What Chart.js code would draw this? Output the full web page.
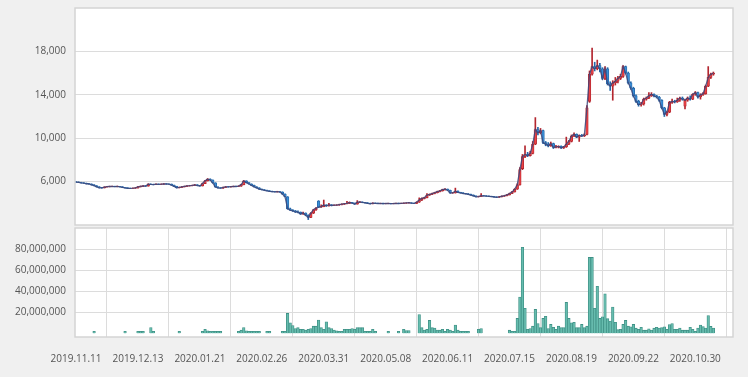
<!DOCTYPE html>
<html>
<head>
<meta charset="utf-8">
<script src="https://cdn.jsdelivr.net/npm/chart.js@4.4.0/dist/chart.umd.min.js"></script>
<style>
    html, body { margin: 0; padding: 0; background: #f0f0f0; }
    #wrap { position: relative; width: 748px; height: 377px; }
    #price-chart { position: absolute; left: 0; top: 0; }
    #vol-chart { position: absolute; left: 0; top: 226px; }
</style>
</head>
<body>
<div id="wrap">
    <canvas id="price-chart" width="748" height="226"></canvas>
    <canvas id="vol-chart" width="748" height="151"></canvas>
</div>
<script>
// x tick labels sit every 24 trading days
const dateLabels = ["2019.11.11", "2019.12.13", "2020.01.21", "2020.02.26", "2020.03.31", "2020.05.08",
    "2020.06.11", "2020.07.15", "2020.08.19", "2020.09.22", "2020.10.30"];
const dateTickIdx = [0, 24, 48, 72, 96, 120, 144, 168, 192, 216, 240];
const priceTicks = [6000, 10000, 14000, 18000];
const volumeTicks = [20000000, 40000000, 60000000, 80000000];

const opens = [
    5980,5950,5920,5880,5850,5800,5780,5700,5620,5520, 5430,5420,5500,5530,5550,5560,5540,5560,5520,5470,
    5420,5380,5370,5390,5420,5520,5560,5600,5590,5760, 5740,5730,5770,5740,5760,5790,5780,5770,5680,5560,
    5430,5470,5520,5560,5600,5620,5650,5700,5640,5600, 5820,6080,6230,6150,5880,5500,5420,5400,5460,5520,
    5510,5540,5560,5550,5580,5720,6060,5900,5780,5650, 5520,5420,5300,5250,5200,5150,5100,5080,5060,5080,
    5040,4850,4600,3500,3380,3300,3200,3180,3020,3100, 2900,2700,3100,3400,4200,3650,3700,3840,3760,3850,
    3800,3830,3840,3880,3920,3960,4000,4080,4020,3930, 4100,4120,4080,4050,4000,3960,4020,3990,3980,3990,
    3970,3980,3990,3970,3980,4000,3980,3990,4010,4030, 4050,4010,3990,4100,4300,4450,4520,4760,4820,4900,
    4980,5080,5150,5260,5310,5200,4950,4960,5120,5000, 4960,4900,4880,4820,4760,4680,4600,4620,4700,4690,
    4660,4640,4620,4580,4560,4600,4650,4700,4780,4900, 5050,5300,5700,7200,8300,8500,8400,8600,9450,10800,
    10500,10700,9600,9450,9300,9500,9150,9200,9250,9100, 9200,9450,9700,10200,10350,10100,10250,10200,10350,13400,
    15900,16600,16400,16700,16400,15500,16400,15000,14800,15100, 15250,15500,15700,16600,16000,15100,14600,13900,13400,13100,
    13150,13600,13700,13900,14050,13900,13800,13500,12800,12200, 12400,13300,13400,13350,13500,13700,12950,13500,13700,13600,
    14050,14200,13800,14000,14100,14800,15600,15900
];
const highs = [
    6000,5980,5940,5900,5870,5830,5800,5720,5640,5540, 5470,5530,5560,5580,5590,5580,5590,5570,5540,5480,
    5440,5400,5420,5450,5560,5600,5640,5630,5800,5790, 5770,5800,5790,5790,5820,5810,5800,5780,5690,5570,
    5500,5550,5590,5630,5660,5690,5740,5720,5660,5860, 6120,6280,6260,6160,5900,5530,5450,5490,5550,5550,
    5570,5590,5580,5620,5760,6100,6080,5920,5800,5670, 5540,5440,5320,5270,5220,5170,5130,5100,5110,5100,
    5060,4870,4620,3560,3420,3340,3300,3200,3200,3120, 2950,3150,3450,3600,4250,3850,4300,3880,4000,3880,
    3870,3880,3920,3960,4000,4180,4120,4100,4030,4250, 4160,4140,4100,4070,4020,4050,4040,4010,4010,4010,
    4000,4010,4000,4000,4030,4020,4010,4040,4060,4080, 4060,4030,4150,4500,4500,4560,4900,4860,4940,5020,
    5120,5190,5300,5350,5320,5220,5000,5400,5140,5020, 4980,4920,4900,4840,4780,4700,4660,4900,4730,4710,
    4680,4660,4640,4600,4640,4690,4740,4820,4940,5100, 5350,5800,7300,8500,9300,8700,8800,9700,11900,11000,
    10900,10750,9700,9600,9650,9550,9350,9300,9300,9250, 10100,9800,10300,10500,10400,10300,10350,10400,13000,16200,
    18300,17000,17200,16900,16500,16600,16500,15200,15300,15600, 15700,15900,16700,16650,16100,15200,14700,14000,13500,13300,
    13700,13800,14200,14200,14100,13950,13850,13550,12850,12500, 13400,13600,13500,13700,13800,13800,13600,13800,13900,14100,
    14300,14250,14100,14200,14900,16600,16000,16100
];
const lows = [
    5920,5900,5860,5830,5780,5760,5680,5600,5500,5410, 5400,5410,5480,5510,5530,5520,5520,5500,5450,5400,
    5360,5350,5350,5370,5400,5500,5540,5560,5580,5720, 5700,5710,5720,5720,5740,5750,5750,5660,5540,5410,
    5410,5450,5500,5540,5580,5600,5630,5620,5580,5590, 5800,6050,6100,5850,5480,5400,5380,5380,5440,5490,
    5490,5520,5530,5530,5560,5700,5880,5760,5630,5500, 5400,5280,5230,5180,5130,5080,5060,5040,5040,5020,
    4830,4580,3450,3330,3250,3150,3120,2980,2980,2850, 2500,2680,3050,3350,3600,3620,3680,3720,3740,3770,
    3780,3800,3810,3850,3890,3940,3970,3990,3900,3920, 4060,4050,4020,3970,3940,3940,3970,3960,3960,3950,
    3950,3960,3950,3950,3960,3960,3960,3970,3990,4010, 3990,3970,3970,4080,4250,4400,4500,4720,4790,4870,
    4950,5050,5120,5220,5170,4930,4920,4940,4980,4930, 4880,4850,4800,4740,4660,4580,4580,4600,4660,4640,
    4620,4600,4560,4540,4540,4580,4630,4680,4760,4880, 5030,5280,5680,7100,8200,8300,8350,8550,9400,10300,
    10400,9500,9300,9200,9250,9050,9100,9100,9050,9050, 9150,9400,9650,10150,10050,9700,10150,10150,10300,13300,
    15800,16200,16300,16100,15400,15400,14900,14400,13500,14900, 15100,15400,15600,15900,15000,14500,13800,13300,12950,12950,
    13050,13500,13650,13850,13800,13700,13400,12700,12000,12050, 12350,13200,13250,13300,13400,13500,12700,13400,13500,13550,
    13950,13700,13600,13950,14050,14750,15500,15800
];
const closes = [
    5950,5920,5880,5850,5800,5780,5700,5620,5520,5430, 5420,5500,5530,5550,5560,5540,5560,5520,5470,5420,
    5380,5370,5390,5420,5520,5560,5600,5590,5760,5740, 5730,5770,5740,5760,5790,5780,5770,5680,5560,5430,
    5470,5520,5560,5600,5620,5650,5700,5640,5600,5820, 6080,6230,6150,5880,5500,5420,5400,5460,5520,5510,
    5540,5560,5550,5580,5720,6060,5900,5780,5650,5520, 5420,5300,5250,5200,5150,5100,5080,5060,5080,5040,
    4850,4600,3500,3380,3300,3200,3180,3020,3100,2900, 2700,3100,3400,3550,3650,3700,3840,3760,3850,3800,
    3830,3840,3880,3920,3960,4000,4080,4020,3930,4100, 4120,4080,4050,4000,3960,4020,3990,3980,3990,3970,
    3980,3990,3970,3980,4000,3980,3990,4010,4030,4050, 4010,3990,4100,4300,4450,4520,4760,4820,4900,4980,
    5080,5150,5260,5310,5200,4950,4960,5120,5000,4960, 4900,4880,4820,4760,4680,4600,4620,4700,4690,4660,
    4640,4620,4580,4560,4600,4650,4700,4780,4900,5050, 5300,5700,7100,8300,8500,8400,8600,9450,10800,10500,
    10700,9600,9450,9300,9500,9150,9200,9250,9100,9200, 9450,9700,10200,10350,10100,10250,10200,10300,12800,15900,
    16600,16400,16700,16400,15500,16400,15000,14800,15100,15250, 15500,15700,16600,16000,15100,14600,13900,13400,13100,13150,
    13600,13700,13900,14050,13900,13800,13500,12800,12200,12400, 13300,13400,13350,13500,13700,13600,13500,13700,13600,14050,
    14200,13800,14000,14100,14800,15600,15900,16000
];
// volume in millions of shares, null where no bar is visible
const volumeMillions = [
    null,null,null,null,null,null,null,2,null,null, null,null,null,null,null,null,null,null,null,2,
    null,null,null,null,2,2,2,null,null,5.5, 2,null,null,null,null,null,null,null,null,null,
    2,null,null,null,null,null,null,null,null,2, 3.8,2.5,2,2,2,2,2,null,null,null,
    null,null,null,2,3,5.5,2.5,2,2,2, 2,2,null,null,2,2,null,null,null,null,
    2,2,19,10,7.5,4.6,5.4,3.8,3.8,3.2, 3.8,4.6,6.8,6.8,12.7,5.4,3.8,11,5.4,4.6,
    3.2,2.5,2,2,3.8,3.8,3.8,4.6,3.8,5.4, 5.4,5.4,2,2,2,3.8,2,null,null,null,
    null,2,null,null,null,2,null,3.8,2.6,2.6, null,null,null,18,5.4,3.2,3.8,12.3,5.4,5,
    3.2,3,3.8,2,3.8,3.2,2,7.9,3.2,2, 2,2,2,null,null,null,3.8,4.6,null,null,
    null,null,null,null,null,null,null,null,3,2, 2,14.2,34.6,82,23.8,3.8,4.6,6.8,22.8,9.4,
    5.4,14.2,16.2,4.6,8.5,5.7,3.8,6.8,5.4,5.4, 29.5,14.2,10,10.5,5.4,5.4,8.5,5.4,6.8,72.4,
    72.4,23.8,44.8,14.2,15.8,37.7,14,11.7,25.1,10.5, 3.5,3.8,8.5,12.3,6.8,6.2,8.5,4.9,3.8,5.7,
    3,3,4.3,3.2,4.9,5.7,5.1,5.4,6.2,3.8, 8.3,9.4,3.8,3.8,5,3,3,3,5.7,3.8,
    2,5,7.9,6.5,5,17,6.6,5
];

const upFill = "#ec4346", upEdge = "#b3262f";
const downFill = "#3a8fd8", downEdge = "#2568aa";
const isUp = i => closes[i] >= opens[i];

const tickFont = { family: "'Open Sans', sans-serif", size: 10 };

// white plot area with a light frame, like the original
const plotFrame = {
    id: "plotFrame",
    beforeDraw(chart) {
        const { ctx, chartArea: a } = chart;
        ctx.save();
        ctx.fillStyle = "#ffffff";
        ctx.fillRect(a.left, a.top, a.right - a.left, a.bottom - a.top);
        ctx.restore();
    },
    afterDraw(chart) {
        const { ctx, chartArea: a } = chart;
        ctx.save();
        ctx.strokeStyle = "#d4d4d4";
        ctx.lineWidth = 1.5;
        ctx.strokeRect(a.left, a.top, a.right - a.left, a.bottom - a.top);
        ctx.restore();
    }
};

// keep tick labels from pushing the plot area around
const fixY = s => { s.width = 75; s.paddingTop = 0; s.paddingBottom = 0; };
const xRange = { min: -0.4, max: 254.6, offset: false };

new Chart(document.getElementById("price-chart"), {
    type: "bar",
    data: {
        datasets: [
            {
                type: "line",
                data: closes.map((c, i) => ({ x: i, y: c })),
                borderColor: "rgba(60,70,122,0.85)",
                borderWidth: 1.3,
                pointRadius: 0,
                tension: 0,
                order: 0
            },
            {
                data: opens.map((o, i) => ({ x: i, y: [o, closes[i]] })),
                backgroundColor: opens.map((o, i) => isUp(i) ? upFill : downFill),
                borderColor: opens.map((o, i) => isUp(i) ? upEdge : downEdge),
                borderWidth: 0.8,
                borderSkipped: false,
                barPercentage: 1,
                categoryPercentage: 1,
                grouped: false,
                order: 1
            },
            {
                data: lows.map((l, i) => ({ x: i, y: [l, highs[i]] })),
                backgroundColor: lows.map((l, i) => isUp(i) ? upEdge : downEdge),
                barThickness: 1,
                grouped: false,
                order: 2
            }
        ]
    },
    options: {
        responsive: false,
        animation: false,
        layout: { padding: { top: 8, right: 15, left: 0, bottom: 1 } },
        plugins: { legend: { display: false }, tooltip: { enabled: false } },
        scales: {
            x: { type: "linear", ...xRange, display: false },
            y: {
                min: 2000,
                max: 22000,
                afterBuildTicks: s => { s.ticks = priceTicks.map(v => ({ value: v })); },
                afterFit: fixY,
                grid: { color: "#dcdcdc", drawTicks: false },
                border: { display: false },
                ticks: {
                    padding: 9,
                    color: "#555",
                    font: tickFont,
                    callback: v => v.toLocaleString("en-US")
                }
            }
        }
    },
    plugins: [plotFrame]
});

new Chart(document.getElementById("vol-chart"), {
    type: "bar",
    data: {
        datasets: [{
            data: volumeMillions.map((v, i) => ({ x: i, y: v === null ? null : v * 1000000 })),
            backgroundColor: "#66bcae",
            borderColor: "#3f9186",
            borderWidth: 0.8,
            barPercentage: 1,
            categoryPercentage: 1
        }]
    },
    options: {
        responsive: false,
        animation: false,
        layout: { padding: { top: 2, right: 15, left: 0, bottom: 0 } },
        plugins: { legend: { display: false }, tooltip: { enabled: false } },
        scales: {
            x: {
                type: "linear",
                ...xRange,
                afterBuildTicks: s => { s.ticks = dateTickIdx.map(v => ({ value: v })); },
                afterFit: s => { s.height = 40; s.paddingLeft = 0; s.paddingRight = 0; },
                grid: { color: "#dcdcdc", drawTicks: false },
                border: { display: false },
                ticks: {
                    padding: 16,
                    color: "#555",
                    font: tickFont,
                    autoSkip: false,
                    maxRotation: 0,
                    callback: v => dateLabels[dateTickIdx.indexOf(v)]
                }
            },
            y: {
                min: -3500000,
                max: 100500000,
                afterBuildTicks: s => { s.ticks = volumeTicks.map(v => ({ value: v })); },
                afterFit: fixY,
                grid: { color: "#dcdcdc", drawTicks: false },
                border: { display: false },
                ticks: {
                    padding: 9,
                    color: "#555",
                    font: tickFont,
                    callback: v => v.toLocaleString("en-US")
                }
            }
        }
    },
    plugins: [plotFrame]
});
</script>
</body>
</html>
